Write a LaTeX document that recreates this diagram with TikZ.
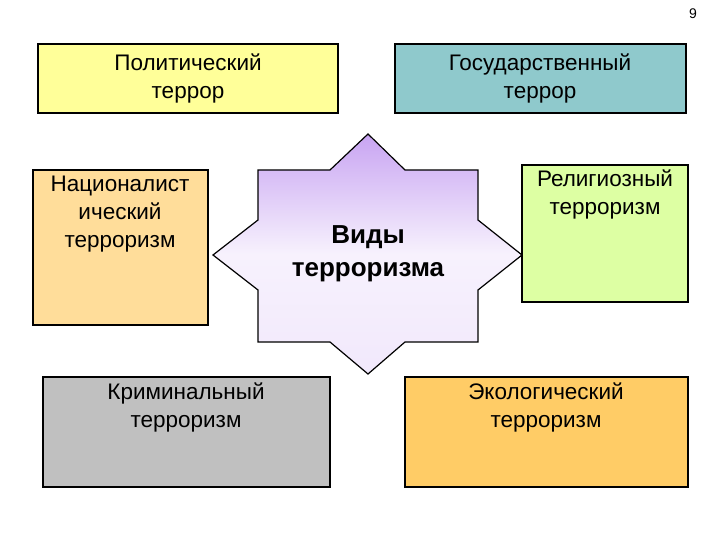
\documentclass[tikz,border=0pt]{standalone}
\usepackage{fontspec}
\setmainfont{Liberation Sans}
\begin{document}
\begin{tikzpicture}[x=1pt,y=-1pt,
 bx/.style={draw=black,line width=1.2pt},
 lbl/.style={align=center,font=\fontsize{22.5}{28}\selectfont,anchor=north}]
\useasboundingbox (0,0) rectangle (720,540);
\definecolor{cyel}{HTML}{FFFF99}
\definecolor{cteal}{HTML}{8FC9CC}
\definecolor{cpeach}{HTML}{FFDD9A}
\definecolor{cgreen}{HTML}{DDFFA3}
\definecolor{cgray}{HTML}{C0C0C0}
\definecolor{corange}{HTML}{FFCC66}
\definecolor{cpur}{HTML}{C8A4F2}
\node[font=\fontsize{14}{16}\selectfont] (pg) at (693,14) {9};
\draw[bx,fill=cyel] (38,44) rectangle (338,113);
\node[lbl] (a) at (188,50) {Политический\\террор};
\draw[bx,fill=cteal] (395,44) rectangle (686,113);
\node[lbl] (b) at (540,50) {Государственный\\террор};
\draw[bx,fill=cpeach] (33,170) rectangle (208,325);
\node[lbl] (c) at (120,172) {Националист\\ический\\терроризм};
\draw[bx,fill=cgreen] (522,165) rectangle (688,302);
\node[lbl] (d) at (605,166) {Религиозный\\терроризм};
\draw[bx,fill=cgray] (43,377) rectangle (330,487);
\node[lbl] (e) at (186,379) {Криминальный\\терроризм};
\draw[bx,fill=corange] (405,377) rectangle (688,487);
\node[lbl] (f) at (546,379) {Экологический\\терроризм};
\shade[top color=cpur,bottom color=cpur!25,middle color=white!85!cpur,draw=black,line width=1.2pt]
 (258,170) -- (330,170) -- (368,134) -- (405,170) -- (478,170) -- (478,220) -- (522,255)
 -- (478,290) -- (478,342) -- (405,342) -- (368,374) -- (330,342) -- (258,342)
 -- (258,290) -- (213,255) -- (258,220) -- cycle;
\node[align=center,font=\fontsize{26}{33}\selectfont\bfseries] (s) at (368,254) {Виды\\терроризма};
\end{tikzpicture}
\end{document}
